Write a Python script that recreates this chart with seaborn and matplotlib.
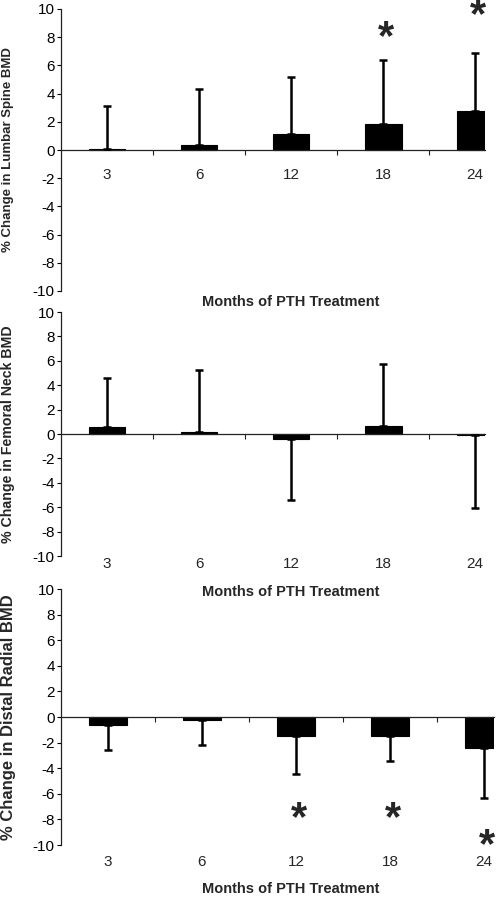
import matplotlib
matplotlib.use("Agg")
import matplotlib.pyplot as plt
import seaborn as sns
import pandas as pd
import numpy as np
from matplotlib.ticker import FixedLocator

# ---------------- data ----------------
months = ["3", "6", "12", "18", "24"]

spine_mean = [0.1, 0.35, 1.15, 1.85, 2.8]
spine_sd = [3.05, 4.0, 4.05, 4.5, 4.05]

neck_mean = [0.55, 0.15, -0.4, 0.65, -0.05]
neck_sd = [4.0, 5.1, 5.0, 5.1, 6.05]

radial_mean = [-0.6, -0.2, -1.45, -1.45, -2.4]
radial_sd = [1.95, 1.95, 3.0, 1.95, 3.9]

spine_sig = ["18", "24"]
spine_sig_y = [8.5, 10.1]
radial_sig = ["12", "18", "24"]
radial_sig_y = [-7.3, -7.3, -9.4]

yticks = list(range(-10, 11, 2))
ylabels = ["% Change in Lumbar Spine BMD",
           "% Change in Femoral Neck BMD",
           "% Change in Distal Radial BMD"]
xlabel = "Months of PTH Treatment"

# ---------------- style ----------------
sns.set_style("white")
plt.rcParams["font.family"] = ["Liberation Sans", "DejaVu Sans"]
plt.rcParams["axes.unicode_minus"] = False

W, H = 497, 897
fig = plt.figure(figsize=(W / 100, H / 100), dpi=100)

# pixel boxes (left, right, top, bottom)
boxes = [(61, 485, 9, 291), (61, 485, 312, 556), (61, 494, 589, 845)]
means = [spine_mean, neck_mean, radial_mean]
sds = [spine_sd, neck_sd, radial_sd]
sigs = [(spine_sig, spine_sig_y), ([], []), (radial_sig, radial_sig_y)]
ylabel_sizes = [9.5, 10.2, 12.0]
xlabel_y = [302, 592, 889]

for i in range(3):
    l, r, t, b = boxes[i]
    ax = fig.add_axes([l / W, (H - b) / H, (r - l) / W, (b - t) / H])
    ax.patch.set_alpha(0)
    df = pd.DataFrame({"month": months, "value": means[i]})
    sns.barplot(data=df, x="month", y="value", order=months, color="black",
                width=0.4, edgecolor="black", linewidth=0.8, errorbar=None,
                saturation=1, ax=ax)
    m = np.array(means[i])
    sd = np.array(sds[i])
    lower = np.where(m < 0, sd, 0)
    upper = np.where(m >= 0, sd, 0)
    ax.errorbar(np.arange(len(months)), m, yerr=[lower, upper], fmt="none",
                ecolor="black", elinewidth=1.8, capsize=3, capthick=1.8,
                zorder=3)

    ax.set_xlim(-0.5, 4.107)
    ax.set_ylim(-10, 10)
    ax.set_yticks(yticks)
    ax.tick_params(axis="y", which="major", left=True, length=3, width=0.8,
                   pad=1.5, labelsize=11, direction="out", colors="black")

    ax.spines["right"].set_visible(False)
    ax.spines["left"].set_color("#222222")
    ax.spines["left"].set_linewidth(0.9)

    boundaries = [k + 0.5 for k in range(-1, len(months))]
    ax.set_xticks(range(len(months)))
    ax.set_xticklabels(months)
    ax.xaxis.set_minor_locator(FixedLocator(boundaries[1:]))

    if i == 0:
        ax.spines["top"].set_visible(False)
        ax.spines["bottom"].set_position(("data", 0))
        ax.spines["bottom"].set_color("#222222")
        ax.spines["bottom"].set_linewidth(0.9)
        ax.tick_params(axis="x", which="major", bottom=True, length=0,
                       pad=13, labelsize=11)
        ax.tick_params(axis="x", which="minor", bottom=True, length=3.5,
                       width=0.8, direction="out", color="#222222")
    else:
        ax.spines["bottom"].set_visible(False)
        ax.spines["top"].set_position(("data", 0))
        ax.spines["top"].set_color("#222222")
        ax.spines["top"].set_linewidth(0.9)
        ax.tick_params(axis="x", which="major", bottom=True, top=False,
                       length=0, pad=1 if i == 1 else 7, labelsize=11)
        ax.tick_params(axis="x", which="minor", top=True, bottom=False,
                       length=3.5, width=0.8, direction="in",
                       color="#222222")

    ax.set_ylabel(ylabels[i], fontsize=ylabel_sizes[i], fontweight="bold")
    ax.yaxis.label.set_verticalalignment("center")
    ax.yaxis.set_label_coords((8.3 - l) / (r - l), 0.5)

    ax.set_xlabel(xlabel, fontsize=10.5, fontweight="bold")
    ax.xaxis.label.set_verticalalignment("center")
    ax.xaxis.set_label_coords((291 - l) / (r - l), (b - xlabel_y[i]) / (b - t))

    for cat, yv in zip(*sigs[i]):
        ax.annotate("*", xy=(months.index(cat), yv), xytext=(2, -6),
                    textcoords="offset points", ha="center", va="center",
                    fontsize=30, fontweight="bold", annotation_clip=False)

fig.savefig("out.png", dpi=100)
